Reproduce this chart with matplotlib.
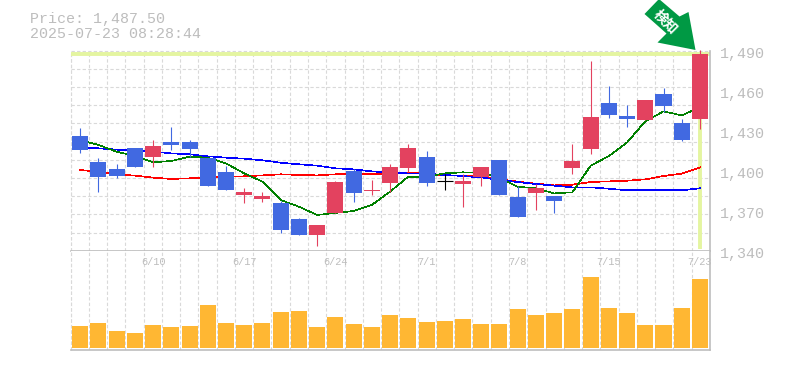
import matplotlib
matplotlib.use("Agg")
import matplotlib.pyplot as plt
import numpy as np
from matplotlib.patches import Polygon

W, H = 785, 370
MONO = ["Liberation Mono", "DejaVu Sans Mono"]
GRAY = "#bdbdbd"
GRID = "#d9d9d9"
UP = "#e3425f"
DOWN = "#4169e1"

opens = [1426, 1406.5, 1401.3, 1417, 1410.3, 1421.5, 1421.5, 1409.5, 1399, 1381.8, 1378.8, 1375.8,
         1363.8, 1351.8, 1368.3, 1399.8, 1385, 1390.8, 1402, 1410.3, 1392, 1390, 1395.3, 1408,
         1380.3, 1383.3, 1381, 1402, 1416.3, 1450.8, 1441, 1438, 1457.5, 1435.8, 1438.8]
closes = [1415.5, 1395.3, 1396, 1402.8, 1418.5, 1419.3, 1416.3, 1388.5, 1385.5, 1384, 1381, 1355.5,
          1351.8, 1359.3, 1391.5, 1383.3, 1385.5, 1402.8, 1417, 1390.8, 1392, 1392.3, 1402.8, 1381.8,
          1365.3, 1387, 1377.3, 1407.3, 1440.3, 1441.8, 1438.8, 1453, 1448.5, 1423, 1487.5]
highs = [1432, 1409.5, 1405, 1417, 1423, 1432.8, 1423, 1409.5, 1403.5, 1387, 1384, 1377.3,
         1364.5, 1359.3, 1392.3, 1401.3, 1393, 1405, 1420, 1414.8, 1397.5, 1397.5, 1402.8, 1408,
         1388.5, 1390, 1381, 1420, 1482.3, 1463.5, 1449.3, 1453, 1462, 1438.8, 1490.5]
lows = [1413.3, 1384, 1394.5, 1402.8, 1402.8, 1415.5, 1410.3, 1388.5, 1385.5, 1375.8, 1376.5, 1353.3,
        1351.8, 1343.5, 1368.3, 1376.5, 1381.8, 1384, 1399, 1388.5, 1385.5, 1372.8, 1388.5, 1381.8,
        1365.3, 1370.5, 1368.3, 1397.5, 1412.5, 1439.5, 1432.8, 1438, 1444, 1422.3, 1431.3]
ma_green = [1423, 1419.3, 1414.3, 1411, 1406.3, 1407.3, 1410.5, 1409.8, 1405.5, 1398, 1391.8, 1378,
            1373, 1366.8, 1368.3, 1369.8, 1374.3, 1384.3, 1395.5, 1395.5, 1398, 1398.8, 1398.5, 1394.8,
            1388, 1386.8, 1383, 1383.8, 1403.7, 1411, 1421.2, 1437, 1444.5, 1441.5, 1447.5]
ma_blue = [1417.3, 1416.8, 1415.8, 1415, 1414.3, 1413, 1412.3, 1410.8, 1409.8, 1409, 1407.8, 1406,
           1404.8, 1403.8, 1401.8, 1401, 1399.5, 1398.5, 1398, 1397.8, 1396.8, 1396, 1395, 1393,
           1391.5, 1390, 1388.8, 1387.5, 1387.5, 1386.5, 1385.3, 1385.3, 1385.3, 1385.3, 1386.8]
ma_red = [1400.5, 1399.3, 1397.3, 1396.3, 1394.8, 1393.8, 1394.3, 1395, 1395.3, 1395.8, 1396.5, 1397.3,
          1396.8, 1396.5, 1397.3, 1397.3, 1397.3, 1398, 1398.5, 1398, 1396.5, 1396.3, 1396, 1393.5,
          1391.8, 1390.3, 1389, 1389.5, 1391.5, 1392, 1392.5, 1393.5, 1396, 1397.8, 1402.5]
volumes = [66, 75, 51, 45, 69, 63, 66, 129, 75, 69, 75, 108, 111, 63, 93, 72, 63, 99,
           90, 78, 81, 87, 72, 72, 117, 99, 105, 117, 213, 120, 105, 69, 69, 120, 207]
date_pos = [4, 9, 14, 19, 24, 29, 34]
date_labels = ["6/10", "6/17", "6/24", "7/1", "7/8", "7/15", "7/23"]
price_ticks = [1490, 1460, 1430, 1400, 1370, 1340]
price_labels = ["1,490", "1,460", "1,430", "1,400", "1,370", "1,340"]
current_price = 1487.5
info_lines = ["Price: 1,487.50", "2025-07-23 08:28:44"]
signal_text = "検知"

fig = plt.figure(figsize=(W / 100, H / 100), dpi=100, facecolor="white")


def axes_px(x0, y0, x1, y1):
    return fig.add_axes([x0 / W, 1 - y1 / H, (x1 - x0) / W, (y1 - y0) / H])


X0, X1, YT, YM, YB = 70.5, 710, 50.7, 250.7, 350.3
ax = axes_px(X0, YT, X1, YM)
av = axes_px(X0, YM, X1, YB)
xlim = (-0.53, 34.55)
x = np.arange(len(opens))

for a in (ax, av):
    a.set_xlim(*xlim)
    a.set_xticks(np.linspace(*xlim, 36)[:-1])
    a.set_xticklabels([])
    a.tick_params(length=0)
    a.grid(axis="x", color=GRID, linestyle=(0, (3, 2)), linewidth=0.8)
    for s in a.spines.values():
        s.set_visible(False)
    a.spines["bottom"].set_visible(True)
    a.spines["right"].set_visible(True)
    a.spines["bottom"].set_color(GRAY)
    a.spines["right"].set_color(GRAY)
    a.spines["bottom"].set_linewidth(1.2)
    a.spines["right"].set_linewidth(1.2)
    a.set_axisbelow(True)

# price panel
ax.set_ylim(1340, 1490)
ax.set_yticks(np.linspace(1340, 1490, 12)[:-1])
ax.set_yticklabels([])
ax.grid(axis="y", color=GRID, linestyle=(0, (3, 2)), linewidth=0.8)
ax.plot([-0.53, 34.55], [1490, 1490], color=GRID, linestyle=(0, (3, 2)), lw=0.8, clip_on=False, zorder=1)
ax.plot([-0.53, -0.53], [1340, 1490], color=GRID, linestyle=(0, (3, 2)), lw=0.8, clip_on=False, zorder=1)

LIME = "#e4f5a0"
ax.axhline(current_price, color=LIME, lw=2.8, zorder=1.5)
ax.plot([x[-1], x[-1]], [1341.5, current_price], color=LIME, lw=2.8, zorder=1.5, solid_capstyle="butt")

for name, vals in (("#ff0000", ma_red), ("#0000ff", ma_blue), ("#008000", ma_green)):
    ax.plot(x, vals, color=name, lw=0.45, zorder=2, antialiased=False)

for i in x:
    o, c, h, l = opens[i], closes[i], highs[i], lows[i]
    if abs(c - o) < 0.6 and i == 20:
        col = "#000000"
    elif c >= o:
        col = UP
    else:
        col = DOWN
    ax.plot([i, i], [l, h], color=col, lw=0.8, zorder=3, solid_capstyle="butt", clip_on=False)
    if col == "#000000":
        ax.plot([i - 0.44, i + 0.44], [o, o], color=col, lw=0.8, zorder=4, solid_capstyle="butt")
    else:
        bottom, top = min(o, c), max(o, c)
        ax.bar(i, max(top - bottom, 0.8), bottom=bottom, width=0.88, color=col, zorder=4, linewidth=0)

# volume panel
av.set_ylim(-7, 292)
av.set_yticks([])
av.plot([-0.53, -0.53], [-7, 292], color=GRID, linestyle=(0, (3, 2)), lw=0.8, clip_on=False, zorder=1)
av.bar(x, volumes, width=0.88, color="#ffb733", linewidth=0, zorder=3)

for p, lab in zip(date_pos, date_labels):
    av.annotate(lab, (p, 292), xycoords=("data", "data"), xytext=(0, -11.5), textcoords="offset pixels",
                ha="center", va="center", family=MONO, fontsize=7.4, color=GRAY, zorder=5)

for p, lab in zip(price_ticks, price_labels):
    ax.annotate(lab, (1, p), xycoords=("axes fraction", "data"), xytext=(9.5, -3.5), textcoords="offset pixels",
                ha="left", va="center", family=MONO, fontsize=10.8, color=GRAY, annotation_clip=False)

fig.text(30 / W, 1 - 18.5 / H, info_lines[0], family=MONO, fontsize=10.8, color=GRAY, va="center", ha="left")
fig.text(30 / W, 1 - 33.5 / H, info_lines[1], family=MONO, fontsize=10.8, color=GRAY, va="center", ha="left")

# signal arrow
arrow_px = [(644.5, 14), (659, -1), (679.5, 16.5), (688.5, 12), (695.5, 50), (657.5, 42.5), (666.5, 33.5)]
fig.add_artist(Polygon([(px / W, 1 - py / H) for px, py in arrow_px], closed=True, transform=fig.transFigure,
                       facecolor="#009944", edgecolor="none", zorder=6))
fig.text(665 / W, 1 - 22 / H, signal_text, family=["Noto Sans CJK JP", "DejaVu Sans"], fontsize=10, fontweight="bold",
         color="white", rotation=-45, rotation_mode="anchor", ha="center", va="center", zorder=7)

fig.savefig("out.png", dpi=100, facecolor="white")
